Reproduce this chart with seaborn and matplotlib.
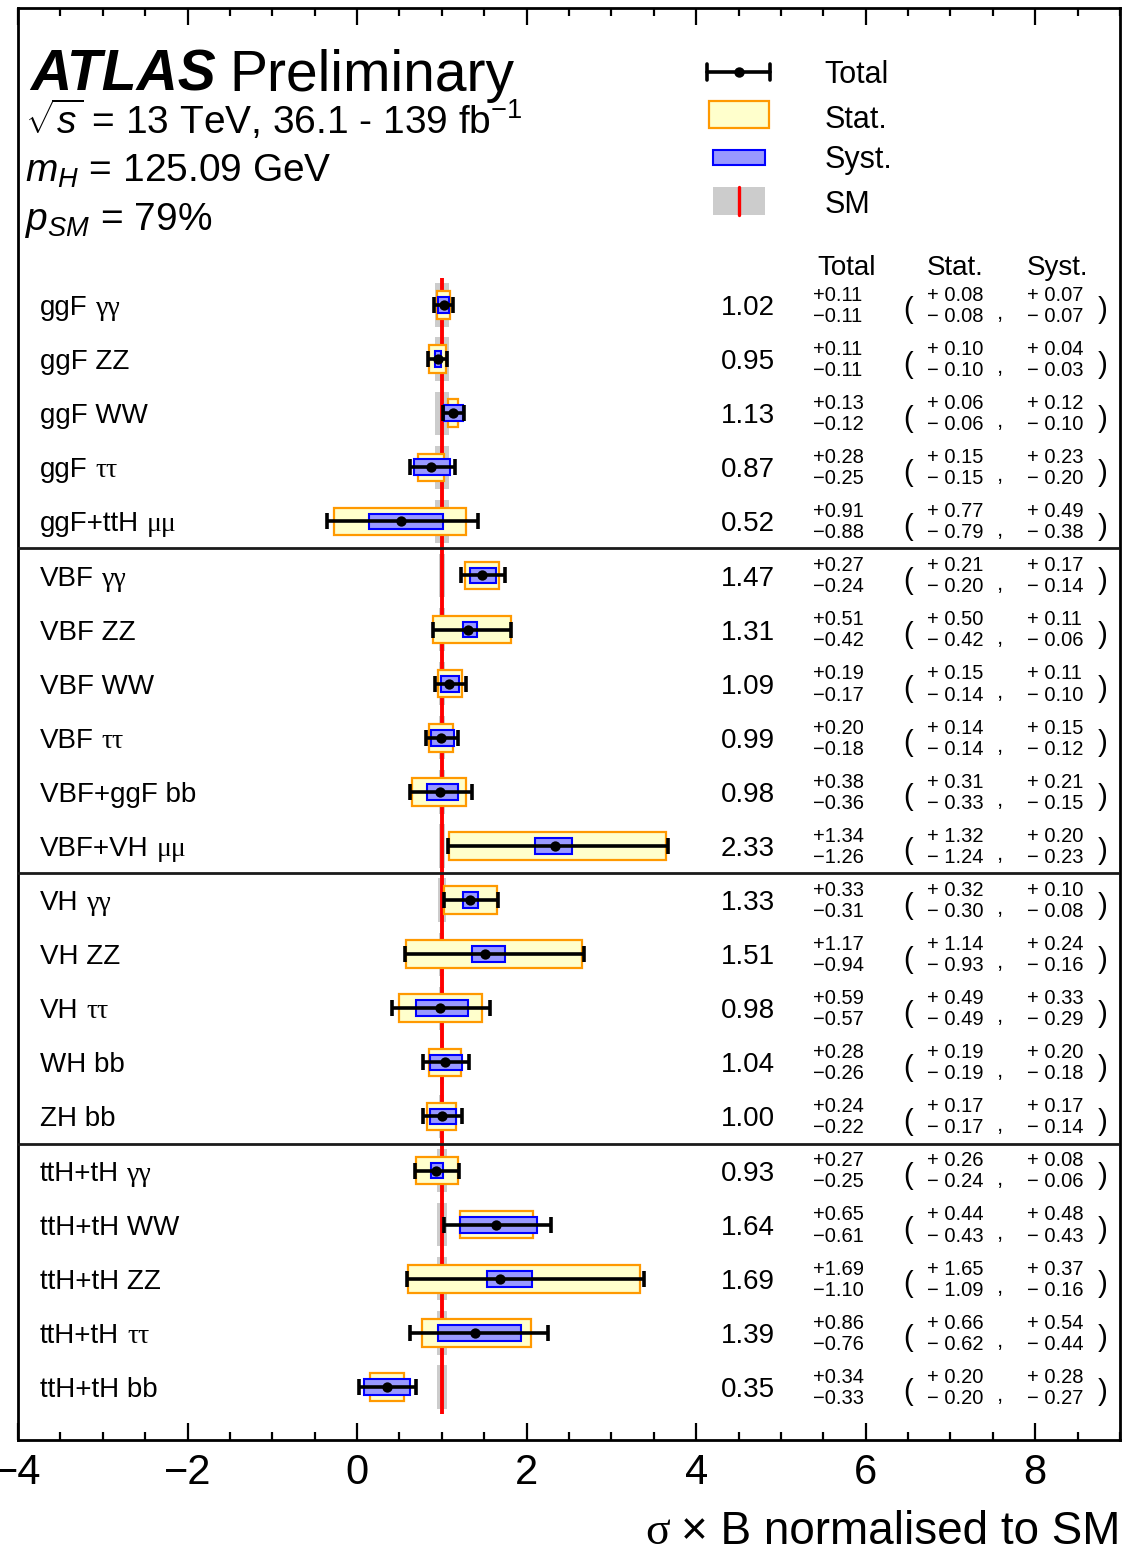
import numpy as np
import pandas as pd
import matplotlib
matplotlib.use("Agg")
import matplotlib.pyplot as plt
import seaborn as sns
from matplotlib.patches import Rectangle
from matplotlib.lines import Line2D
from matplotlib.ticker import MultipleLocator

# ---------------------------------------------------------------- data
channels = ["ggF γγ", "ggF ZZ", "ggF WW", "ggF ττ", "ggF+ttH μμ",
            "VBF γγ", "VBF ZZ", "VBF WW", "VBF ττ", "VBF+ggF bb", "VBF+VH μμ",
            "VH γγ", "VH ZZ", "VH ττ", "WH bb", "ZH bb",
            "ttH+tH γγ", "ttH+tH WW", "ttH+tH ZZ", "ttH+tH ττ", "ttH+tH bb"]
group_sizes = [5, 6, 5, 5]

mu = [1.02, 0.95, 1.13, 0.87, 0.52,
      1.47, 1.31, 1.09, 0.99, 0.98, 2.33,
      1.33, 1.51, 0.98, 1.04, 1.00,
      0.93, 1.64, 1.69, 1.39, 0.35]
tot_up = [0.11, 0.11, 0.13, 0.28, 0.91,
          0.27, 0.51, 0.19, 0.20, 0.38, 1.34,
          0.33, 1.17, 0.59, 0.28, 0.24,
          0.27, 0.65, 1.69, 0.86, 0.34]
tot_dn = [0.11, 0.11, 0.12, 0.25, 0.88,
          0.24, 0.42, 0.17, 0.18, 0.36, 1.26,
          0.31, 0.94, 0.57, 0.26, 0.22,
          0.25, 0.61, 1.10, 0.76, 0.33]
stat_up = [0.08, 0.10, 0.06, 0.15, 0.77,
           0.21, 0.50, 0.15, 0.14, 0.31, 1.32,
           0.32, 1.14, 0.49, 0.19, 0.17,
           0.26, 0.44, 1.65, 0.66, 0.20]
stat_dn = [0.08, 0.10, 0.06, 0.15, 0.79,
           0.20, 0.42, 0.14, 0.14, 0.33, 1.24,
           0.30, 0.93, 0.49, 0.19, 0.17,
           0.24, 0.43, 1.09, 0.62, 0.20]
syst_up = [0.07, 0.04, 0.12, 0.23, 0.49,
           0.17, 0.11, 0.11, 0.15, 0.21, 0.20,
           0.10, 0.24, 0.33, 0.20, 0.17,
           0.08, 0.48, 0.37, 0.54, 0.28]
syst_dn = [0.07, 0.03, 0.10, 0.20, 0.38,
           0.14, 0.06, 0.10, 0.12, 0.15, 0.23,
           0.08, 0.16, 0.29, 0.18, 0.14,
           0.06, 0.43, 0.16, 0.44, 0.27]
# theory uncertainty on the SM prediction (drawn around 1)
sm_unc = [0.085, 0.085, 0.085, 0.085, 0.085,
          0.035, 0.035, 0.035, 0.035, 0.035, 0.035,
          0.05, 0.03, 0.03, 0.025, 0.03,
          0.06, 0.06, 0.06, 0.06, 0.06]
sm_value = 1.0

x_ticks_major = 2
x_ticks_minor = 0.5
x_range = (-4, 9)

# ---------------------------------------------------------------- style
sns.set_theme(style="ticks")
plt.rcParams.update({
    "font.family": ["Liberation Sans", "DejaVu Sans"],
    "mathtext.fontset": "custom",
    "mathtext.rm": "Liberation Sans",
    "mathtext.it": "Liberation Sans:italic",
    "mathtext.bf": "Liberation Sans:bold",
    "text.color": "black",
    "axes.edgecolor": "black",
    "xtick.color": "black",
    "axes.linewidth": 2.0,
})

STAT_FC, STAT_EC = "#ffffcc", "#ff9900"
SYST_FC, SYST_EC = "#9999ff", "#0000ff"
SM_GREY = "#cccccc"
SERIF = ["Liberation Serif", "DejaVu Serif"]

n = len(channels)
ypos = np.arange(n)[::-1].astype(float)
df = pd.DataFrame({
    "channel": channels, "y": ypos, "mu": mu,
    "tot_up": tot_up, "tot_dn": tot_dn,
    "stat_up": stat_up, "stat_dn": stat_dn,
    "syst_up": syst_up, "syst_dn": syst_dn,
    "sm_unc": sm_unc,
})

W, H = 1143, 1555
fig = plt.figure(figsize=(W / 100, H / 100), dpi=100)
ax = fig.add_axes([18 / W, 1 - 1440 / H, (1120 - 18) / W, (1440 - 8) / H])

# SM band and reference line
ax.barh(df.y, 2 * df.sm_unc, left=sm_value - df.sm_unc, height=0.8,
        color=SM_GREY, linewidth=0, zorder=1)
ax.vlines(sm_value, -0.5, n - 0.5, color="red", linewidth=2.8, zorder=2)

# statistical and systematic boxes
ax.barh(df.y, df.stat_up + df.stat_dn, left=df.mu - df.stat_dn, height=0.51,
        color=STAT_FC, edgecolor=STAT_EC, linewidth=1.6, zorder=3)
ax.barh(df.y, df.syst_up + df.syst_dn, left=df.mu - df.syst_dn, height=0.29,
        color=SYST_FC, edgecolor=SYST_EC, linewidth=1.5, zorder=4)

# total uncertainty and best-fit value
ax.errorbar(df.mu, df.y, xerr=[df.tot_dn, df.tot_up], fmt="none",
            ecolor="black", elinewidth=2.6, capsize=6, capthick=2.6, zorder=5)
sns.scatterplot(data=df, x="mu", y="y", color="black", s=55, linewidth=0,
                zorder=6, ax=ax, legend=False)

# separators between production modes
bounds = np.cumsum(group_sizes)[:-1]
for b in bounds:
    ax.axhline(n - b - 0.5, color="#1a1a1a", linewidth=2.0, zorder=7)

# axes
ax.set_xlim(*x_range)
ax.set_ylim(-0.98, 25.49)
ax.set_yticks([])
ax.set_ylabel("")
ax.set_xlabel("")
ax.xaxis.set_major_locator(MultipleLocator(x_ticks_major))
ax.xaxis.set_minor_locator(MultipleLocator(x_ticks_minor))
ax.tick_params(axis="x", which="both", direction="in", top=True, bottom=True,
               labelsize=30, width=1.6, pad=9)
ax.tick_params(axis="x", which="major", length=12)
ax.tick_params(axis="x", which="minor", length=6)
for s in ax.spines.values():
    s.set_visible(True)
    s.set_linewidth(2.0)
    s.set_color("black")

# row labels, values and uncertainty table
LABEL_X = -3.74
greek_chars = set("γτμ")
pending = []
for y, lab in zip(df.y, df.channel):
    head, tail = lab.rsplit(" ", 1)
    if any(c in greek_chars for c in tail):
        t = ax.text(LABEL_X, y - 0.185, head, fontsize=20, ha="left", va="baseline")
        pending.append((t, tail, y))
    else:
        ax.text(LABEL_X, y - 0.185, lab, fontsize=20, ha="left", va="baseline")

SMALL = 14.5
for _, r in df.iterrows():
    y = r.y
    ax.text(4.61, y - 0.185, f"{r.mu:.2f}", fontsize=20, ha="center", va="baseline")
    ax.text(5.38, y + 0.18, f"+{r.tot_up:.2f}", fontsize=SMALL, ha="left", va="center")
    ax.text(5.38, y - 0.21, f"−{r.tot_dn:.2f}", fontsize=SMALL, ha="left", va="center")
    ax.text(6.50, y - 0.10, "(", fontsize=21, ha="center", va="center")
    ax.text(6.72, y + 0.18, f"+ {r.stat_up:.2f}", fontsize=SMALL, ha="left", va="center")
    ax.text(6.72, y - 0.21, f"− {r.stat_dn:.2f}", fontsize=SMALL, ha="left", va="center")
    ax.text(7.585, y - 0.16, ",", fontsize=16, ha="center", va="center")
    ax.text(7.90, y + 0.18, f"+ {r.syst_up:.2f}", fontsize=SMALL, ha="left", va="center")
    ax.text(7.90, y - 0.21, f"− {r.syst_dn:.2f}", fontsize=SMALL, ha="left", va="center")
    ax.text(8.79, y - 0.10, ")", fontsize=21, ha="center", va="center")

for x, h in [(5.775, "Total"), (7.06, "Stat."), (8.26, "Syst.")]:
    ax.text(x, 20.555, h, fontsize=20, ha="center", va="baseline")

# header
ax.text(-3.857, 23.956, "ATLAS", fontsize=41, fontweight="bold", fontstyle="italic",
        ha="left", va="baseline")
ax.text(-1.51, 23.956, "Preliminary", fontsize=41, ha="left", va="baseline")
ax.text(-3.92, 23.16, r"$\sqrt{s}$ = 13 TeV, 36.1 - 139 fb$^{-1}$", fontsize=28,
        ha="left", va="baseline")
ax.text(-3.92, 22.27, r"$m_{H}$ = 125.09 GeV", fontsize=28, ha="left", va="baseline")
ax.text(-3.92, 21.39, r"$p_{SM}$ = 79%", fontsize=28, ha="left", va="baseline")

# legend keys
LEG_X0, LEG_X1, LEG_TX = 4.13, 4.87, 5.51
y_tot = 24.307
ax.add_line(Line2D([LEG_X0, LEG_X1], [y_tot, y_tot], color="black", lw=2.6))
for xc in (LEG_X0, LEG_X1):
    ax.add_line(Line2D([xc, xc], [y_tot - 0.15, y_tot + 0.15], color="black", lw=2.6))
ax.add_line(Line2D([(LEG_X0 + LEG_X1) / 2], [y_tot], marker="o", color="black",
                   markersize=7.5, markeredgewidth=0))
ax.add_patch(Rectangle((4.15, 23.27), 0.71, 0.50, facecolor=STAT_FC,
                       edgecolor=STAT_EC, linewidth=1.6))
ax.add_patch(Rectangle((4.20, 22.59), 0.61, 0.275, facecolor=SYST_FC,
                       edgecolor=SYST_EC, linewidth=1.5))
ax.add_patch(Rectangle((4.20, 21.66), 0.61, 0.52, facecolor=SM_GREY, linewidth=0))
ax.add_line(Line2D([4.506, 4.506], [21.66, 22.18], color="red", lw=2.4))
for yb, lab in [(24.10, "Total"), (23.28, "Stat."), (22.53, "Syst."), (21.70, "SM")]:
    ax.text(LEG_TX, yb, lab, fontsize=22, ha="left", va="baseline")

# x-axis title
XL_BASE = 11 / H
xl = fig.text(1120 / W, XL_BASE, "× B normalised to SM", fontsize=33,
              ha="right", va="baseline")

# greek decay products in a serif face, placed after their prefix
fig.canvas.draw()
renderer = fig.canvas.get_renderer()
inv = ax.transData.inverted()
for t, tail, y in pending:
    bb = t.get_window_extent(renderer)
    xd = inv.transform((bb.x1 + 8, 0))[0]
    ax.text(xd, y - 0.185, tail, fontsize=20, family=SERIF, ha="left", va="baseline")

bb = xl.get_window_extent(renderer)
fig.text((bb.x0 - 11) / W, XL_BASE, "σ", fontsize=33, family=SERIF,
         ha="right", va="baseline")

fig.savefig("out.png", dpi=100)
